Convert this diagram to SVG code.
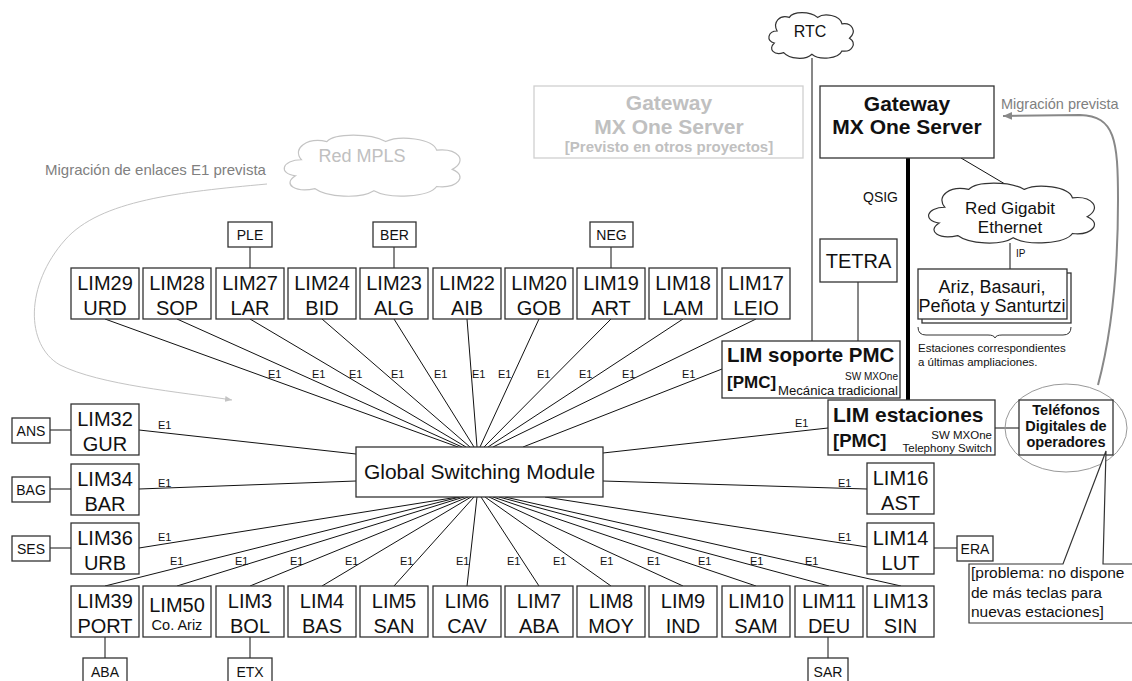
<svg xmlns="http://www.w3.org/2000/svg" width="1132" height="681" viewBox="0 0 1132 681">
<style>
text{font-family:"Liberation Sans",Arial,sans-serif;fill:#111}
.box{fill:#fff;stroke:#333;stroke-width:1.3}
.lim{font-size:20px;text-anchor:middle}
.sm{font-size:14px;text-anchor:middle}
.e1{font-size:11px;fill:#222}
.ln{stroke:#111;stroke-width:1;fill:none}
.cloud{fill:#fff;stroke:#333;stroke-width:1.2}
.gcloud{fill:#fff;stroke:#c4c4c4;stroke-width:1.2}
.b{font-weight:bold}
</style>
<defs>
<path id="cl" vector-effect="non-scaling-stroke" d="M15,25 C5,25 3,38 12,40 C5,48 12,56 22,52 C28,60 45,62 52,54 C60,62 80,60 84,50 C95,52 100,40 92,34 C100,26 95,14 84,16 C82,5 65,2 58,8 C50,0 32,0 28,8 C18,4 10,14 15,25 Z"/>
<marker id="ag" markerWidth="10" markerHeight="10" refX="9" refY="5" orient="auto" markerUnits="userSpaceOnUse"><path d="M0,1 L9,5 L0,9 Z" fill="#888"/></marker>
<marker id="al" markerWidth="8" markerHeight="8" refX="7" refY="4" orient="auto" markerUnits="userSpaceOnUse"><path d="M0,1 L7,4 L0,7 Z" fill="#c4c4c4"/></marker>
</defs>
<rect width="1132" height="681" fill="#fff"/>

<g id="connectors">
<line class="ln" x1="105" y1="319" x2="458" y2="447"/>
<line class="ln" x1="177" y1="319" x2="462" y2="447"/>
<line class="ln" x1="250" y1="319" x2="466" y2="447"/>
<line class="ln" x1="322" y1="319" x2="470" y2="447"/>
<line class="ln" x1="394" y1="319" x2="474" y2="447"/>
<line class="ln" x1="467" y1="319" x2="477" y2="447"/>
<line class="ln" x1="539" y1="319" x2="480" y2="447"/>
<line class="ln" x1="611" y1="319" x2="484" y2="447"/>
<line class="ln" x1="683" y1="319" x2="488" y2="447"/>
<line class="ln" x1="756" y1="319" x2="493" y2="447"/>
<line class="ln" x1="722" y1="369" x2="523" y2="447"/>
<line class="ln" x1="139" y1="430" x2="356" y2="454"/>
<line class="ln" x1="139" y1="489" x2="356" y2="481"/>
<line class="ln" x1="139" y1="548" x2="458" y2="497"/>
<line class="ln" x1="105" y1="586" x2="460" y2="497"/>
<line class="ln" x1="177" y1="586" x2="464" y2="497"/>
<line class="ln" x1="250" y1="586" x2="468" y2="497"/>
<line class="ln" x1="322" y1="586" x2="471" y2="497"/>
<line class="ln" x1="394" y1="586" x2="474" y2="497"/>
<line class="ln" x1="467" y1="586" x2="477" y2="497"/>
<line class="ln" x1="539" y1="586" x2="481" y2="497"/>
<line class="ln" x1="611" y1="586" x2="485" y2="497"/>
<line class="ln" x1="683" y1="586" x2="489" y2="497"/>
<line class="ln" x1="756" y1="586" x2="493" y2="497"/>
<line class="ln" x1="829" y1="586" x2="499" y2="497"/>
<line class="ln" x1="901" y1="586" x2="505" y2="497"/>
<line class="ln" x1="545" y1="497" x2="867" y2="547"/>
<line class="ln" x1="603" y1="481" x2="867" y2="489"/>
<line class="ln" x1="603" y1="453" x2="828" y2="428"/>
<line class="ln" x1="250" y1="247" x2="250" y2="268"/>
<line class="ln" x1="394" y1="247" x2="394" y2="268"/>
<line class="ln" x1="611" y1="247" x2="611" y2="268"/>
<line class="ln" x1="50" y1="430" x2="71" y2="430"/>
<line class="ln" x1="50" y1="489" x2="71" y2="489"/>
<line class="ln" x1="50" y1="548" x2="71" y2="548"/>
<line class="ln" x1="105" y1="637" x2="105" y2="658"/>
<line class="ln" x1="250" y1="637" x2="250" y2="658"/>
<line class="ln" x1="828" y1="637" x2="828" y2="658"/>
<line class="ln" x1="934" y1="548" x2="957" y2="548"/>
<line class="ln" x1="812" y1="58" x2="812" y2="341"/>
<line class="ln" x1="858" y1="282" x2="858" y2="341"/>
<line x1="908" y1="158" x2="908" y2="400" stroke="#000" stroke-width="4"/>
<line class="ln" x1="961" y1="158" x2="1010" y2="187"/>
<line class="ln" x1="1010" y1="243" x2="1010" y2="269"/>
<line class="ln" x1="995" y1="428" x2="1019" y2="428"/>
<path d="M1098,385 C1110,340 1118,280 1118,200 C1118,140 1115,116 1080,115 L1003,116" fill="none" stroke="#888" stroke-width="2" marker-end="url(#ag)"/>
<path d="M267,184 C180,192 100,200 65,240 C25,285 25,345 60,365 C100,385 180,392 232,400" fill="none" stroke="#c4c4c4" stroke-width="1" marker-end="url(#al)"/>
<g class="e1">
<text x="268" y="378">E1</text><text x="312" y="378">E1</text><text x="349" y="378">E1</text><text x="391" y="378">E1</text><text x="434" y="378">E1</text><text x="472" y="378">E1</text><text x="498" y="378">E1</text><text x="537" y="378">E1</text><text x="579" y="378">E1</text><text x="622" y="378">E1</text><text x="682" y="378">E1</text>
<text x="158" y="429">E1</text><text x="158" y="487">E1</text><text x="158" y="541">E1</text>
<text x="170" y="565">E1</text><text x="235" y="565">E1</text><text x="290" y="565">E1</text><text x="345" y="565">E1</text><text x="400" y="565">E1</text><text x="456" y="565">E1</text><text x="507" y="565">E1</text><text x="553" y="565">E1</text><text x="600" y="565">E1</text><text x="647" y="565">E1</text><text x="698" y="565">E1</text><text x="750" y="565">E1</text><text x="805" y="565">E1</text>
<text x="795" y="427">E1</text><text x="838" y="487">E1</text><text x="838" y="541">E1</text>
</g>
<text x="863" y="202" style="font-size:14px">QSIG</text>
<text x="1016" y="257" style="font-size:10px">IP</text>
</g>

<g id="clouds">
<g id="rtc"><use href="#cl" class="cloud" transform="translate(763,11) scale(0.94,0.8)"/><text x="810" y="37" style="font-size:16px;text-anchor:middle">RTC</text></g>
<g id="mpls"><use href="#cl" class="gcloud" transform="translate(272,133) scale(1.96,1.07)"/><text x="362" y="162" style="font-size:18px;text-anchor:middle;fill:#c0c0c0">Red MPLS</text></g>
<g id="gigabit"><use href="#cl" class="cloud" transform="translate(917,181) scale(1.85,1.05)"/><text x="1010" y="214" style="font-size:17px;text-anchor:middle">Red Gigabit</text><text x="1010" y="233" style="font-size:17px;text-anchor:middle">Ethernet</text></g>
</g>

<text x="45" y="175" style="font-size:15px;fill:#808080">Migración de enlaces E1 prevista</text>
<text x="1001" y="109" style="font-size:14.5px;fill:#808080">Migración prevista</text>

<g id="gw-gray">
<rect x="534" y="86" width="269" height="72" fill="#fff" stroke="#d0d0d0" stroke-width="1.3"/>
<text x="669" y="110" class="b" style="font-size:21px;text-anchor:middle;fill:#c0c0c0">Gateway</text>
<text x="669" y="134" class="b" style="font-size:21px;text-anchor:middle;fill:#c0c0c0">MX One Server</text>
<text x="669" y="152" class="b" style="font-size:15px;text-anchor:middle;fill:#c0c0c0">[Previsto en otros proyectos]</text>
</g>
<g id="gw">
<rect class="box" x="820" y="86" width="174" height="72"/>
<text x="907" y="111" class="b" style="font-size:21px;text-anchor:middle">Gateway</text>
<text x="907" y="134" class="b" style="font-size:21px;text-anchor:middle">MX One Server</text>
</g>
<g id="tetra"><rect class="box" x="820" y="239" width="77" height="43"/><text x="858.5" y="268" style="font-size:20px;text-anchor:middle">TETRA</text></g>
<g id="ariz">
<rect class="box" x="922" y="273" width="149" height="50"/>
<rect class="box" x="918" y="269" width="149" height="50"/>
<text x="992" y="293" style="font-size:18px;text-anchor:middle">Ariz, Basauri,</text>
<text x="992" y="312" style="font-size:18px;text-anchor:middle">Peñota y Santurtzi</text>
<path d="M918,327 Q918,335 926,335 L988,335 Q994,335 995,338 Q996,335 1002,335 L1063,335 Q1071,335 1071,327" fill="none" stroke="#333" stroke-width="1"/>
<text x="918" y="352" style="font-size:11.5px">Estaciones correspondientes</text>
<text x="918" y="366" style="font-size:11.5px">a últimas ampliaciones.</text>
</g>
<g id="lim-soporte">
<rect class="box" x="722" y="341" width="178" height="57"/>
<text x="727" y="362" class="b" style="font-size:20.5px">LIM soporte PMC</text>
<text x="727" y="388" class="b" style="font-size:17px">[PMC]</text>
<text x="898" y="380" style="font-size:11px;text-anchor:end" textLength="53" lengthAdjust="spacingAndGlyphs">SW MXOne</text>
<text x="898" y="395" style="font-size:12px;text-anchor:end" textLength="120" lengthAdjust="spacingAndGlyphs">Mecánica tradicional</text>
</g>
<g id="lim-estaciones">
<rect class="box" x="828" y="400" width="167" height="55"/>
<text x="833" y="422" class="b" style="font-size:21px">LIM estaciones</text>
<text x="833" y="447" class="b" style="font-size:18.5px">[PMC]</text>
<text x="992" y="439" style="font-size:11.5px;text-anchor:end">SW MXOne</text>
<text x="992" y="452" style="font-size:11.5px;text-anchor:end">Telephony Switch</text>
</g>
<g id="telefonos">
<ellipse cx="1066" cy="428" rx="61" ry="44" fill="none" stroke="#999" stroke-width="1"/>
<rect class="box" x="1019" y="400" width="94" height="55"/>
<text x="1066" y="415" class="b" style="font-size:14.5px;text-anchor:middle">Teléfonos</text>
<text x="1066" y="431" class="b" style="font-size:14.5px;text-anchor:middle">Digitales de</text>
<text x="1066" y="447" class="b" style="font-size:14.5px;text-anchor:middle">operadores</text>
</g>
<g id="callout">
<path d="M1134,564 L1103,564 L1106,451 L1063,564 L969,564 L969,623 L1134,623" fill="#fff" stroke="#333" stroke-width="1.2"/>
<text x="971" y="578" style="font-size:15.5px">[problema: no dispone</text>
<text x="971" y="598" style="font-size:15.5px">de más teclas para</text>
<text x="971" y="617" style="font-size:15.5px">nuevas estaciones]</text>
</g>
<g id="gsm"><rect class="box" x="356" y="447" width="247" height="50"/><text x="479.5" y="479" style="font-size:21px;text-anchor:middle">Global Switching Module</text></g>

<g id="lim29"><rect class="box" x="71" y="268" width="68" height="51"/><text class="lim" x="105" y="290">LIM29</text><text class="lim" x="105" y="315">URD</text></g>
<g id="lim28"><rect class="box" x="143" y="268" width="68" height="51"/><text class="lim" x="177" y="290">LIM28</text><text class="lim" x="177" y="315">SOP</text></g>
<g id="lim27"><rect class="box" x="216" y="268" width="68" height="51"/><text class="lim" x="250" y="290">LIM27</text><text class="lim" x="250" y="315">LAR</text></g>
<g id="lim24"><rect class="box" x="288" y="268" width="68" height="51"/><text class="lim" x="322" y="290">LIM24</text><text class="lim" x="322" y="315">BID</text></g>
<g id="lim23"><rect class="box" x="360" y="268" width="68" height="51"/><text class="lim" x="394" y="290">LIM23</text><text class="lim" x="394" y="315">ALG</text></g>
<g id="lim22"><rect class="box" x="433" y="268" width="68" height="51"/><text class="lim" x="467" y="290">LIM22</text><text class="lim" x="467" y="315">AIB</text></g>
<g id="lim20"><rect class="box" x="505" y="268" width="68" height="51"/><text class="lim" x="539" y="290">LIM20</text><text class="lim" x="539" y="315">GOB</text></g>
<g id="lim19"><rect class="box" x="577" y="268" width="68" height="51"/><text class="lim" x="611" y="290">LIM19</text><text class="lim" x="611" y="315">ART</text></g>
<g id="lim18"><rect class="box" x="649" y="268" width="68" height="51"/><text class="lim" x="683" y="290">LIM18</text><text class="lim" x="683" y="315">LAM</text></g>
<g id="lim17"><rect class="box" x="722" y="268" width="68" height="51"/><text class="lim" x="756" y="290">LIM17</text><text class="lim" x="756" y="315">LEIO</text></g>
<g id="ple"><rect class="box" x="228" y="222" width="44" height="25"/><text class="sm" x="250" y="240">PLE</text></g>
<g id="ber"><rect class="box" x="373" y="222" width="43" height="25"/><text class="sm" x="394.5" y="240">BER</text></g>
<g id="neg"><rect class="box" x="590" y="222" width="43" height="25"/><text class="sm" x="611.5" y="240">NEG</text></g>

<g id="lim32"><rect class="box" x="71" y="404" width="68" height="51"/><text class="lim" x="105" y="426">LIM32</text><text class="lim" x="105" y="451">GUR</text></g>
<g id="lim34"><rect class="box" x="71" y="464" width="68" height="51"/><text class="lim" x="105" y="486">LIM34</text><text class="lim" x="105" y="511">BAR</text></g>
<g id="lim36"><rect class="box" x="71" y="523" width="68" height="51"/><text class="lim" x="105" y="545">LIM36</text><text class="lim" x="105" y="570">URB</text></g>
<g id="ans"><rect class="box" x="12" y="418" width="38" height="25"/><text class="sm" x="31" y="436">ANS</text></g>
<g id="bag"><rect class="box" x="12" y="477" width="38" height="25"/><text class="sm" x="31" y="495">BAG</text></g>
<g id="ses"><rect class="box" x="12" y="536" width="38" height="25"/><text class="sm" x="31" y="554">SES</text></g>

<g id="lim16"><rect class="box" x="867" y="463" width="67" height="51"/><text class="lim" x="900.5" y="485">LIM16</text><text class="lim" x="900.5" y="510">AST</text></g>
<g id="lim14"><rect class="box" x="867" y="523" width="67" height="51"/><text class="lim" x="900.5" y="545">LIM14</text><text class="lim" x="900.5" y="570">LUT</text></g>
<g id="era"><rect class="box" x="957" y="536" width="36" height="25"/><text class="sm" x="975" y="554">ERA</text></g>

<g id="lim39"><rect class="box" x="71" y="586" width="68" height="51"/><text class="lim" x="105" y="608">LIM39</text><text class="lim" x="105" y="633">PORT</text></g>
<g id="lim50"><rect class="box" x="143" y="586" width="68" height="51"/><text class="lim" x="177" y="612">LIM50</text><text x="177" y="630" style="font-size:14.5px;text-anchor:middle">Co. Ariz</text></g>
<g id="lim3"><rect class="box" x="216" y="586" width="68" height="51"/><text class="lim" x="250" y="608">LIM3</text><text class="lim" x="250" y="633">BOL</text></g>
<g id="lim4"><rect class="box" x="288" y="586" width="68" height="51"/><text class="lim" x="322" y="608">LIM4</text><text class="lim" x="322" y="633">BAS</text></g>
<g id="lim5"><rect class="box" x="360" y="586" width="68" height="51"/><text class="lim" x="394" y="608">LIM5</text><text class="lim" x="394" y="633">SAN</text></g>
<g id="lim6"><rect class="box" x="433" y="586" width="68" height="51"/><text class="lim" x="467" y="608">LIM6</text><text class="lim" x="467" y="633">CAV</text></g>
<g id="lim7"><rect class="box" x="505" y="586" width="68" height="51"/><text class="lim" x="539" y="608">LIM7</text><text class="lim" x="539" y="633">ABA</text></g>
<g id="lim8"><rect class="box" x="577" y="586" width="68" height="51"/><text class="lim" x="611" y="608">LIM8</text><text class="lim" x="611" y="633">MOY</text></g>
<g id="lim9"><rect class="box" x="649" y="586" width="68" height="51"/><text class="lim" x="683" y="608">LIM9</text><text class="lim" x="683" y="633">IND</text></g>
<g id="lim10"><rect class="box" x="722" y="586" width="68" height="51"/><text class="lim" x="756" y="608">LIM10</text><text class="lim" x="756" y="633">SAM</text></g>
<g id="lim11"><rect class="box" x="795" y="586" width="68" height="51"/><text class="lim" x="829" y="608">LIM11</text><text class="lim" x="829" y="633">DEU</text></g>
<g id="lim13"><rect class="box" x="867" y="586" width="67" height="51"/><text class="lim" x="900.5" y="608">LIM13</text><text class="lim" x="900.5" y="633">SIN</text></g>
<g id="aba"><rect class="box" x="83" y="658" width="44" height="25"/><text class="sm" x="105" y="677">ABA</text></g>
<g id="etx"><rect class="box" x="228" y="658" width="44" height="25"/><text class="sm" x="250" y="677">ETX</text></g>
<g id="sar"><rect class="box" x="808" y="658" width="40" height="25"/><text class="sm" x="828" y="677">SAR</text></g>
</svg>
